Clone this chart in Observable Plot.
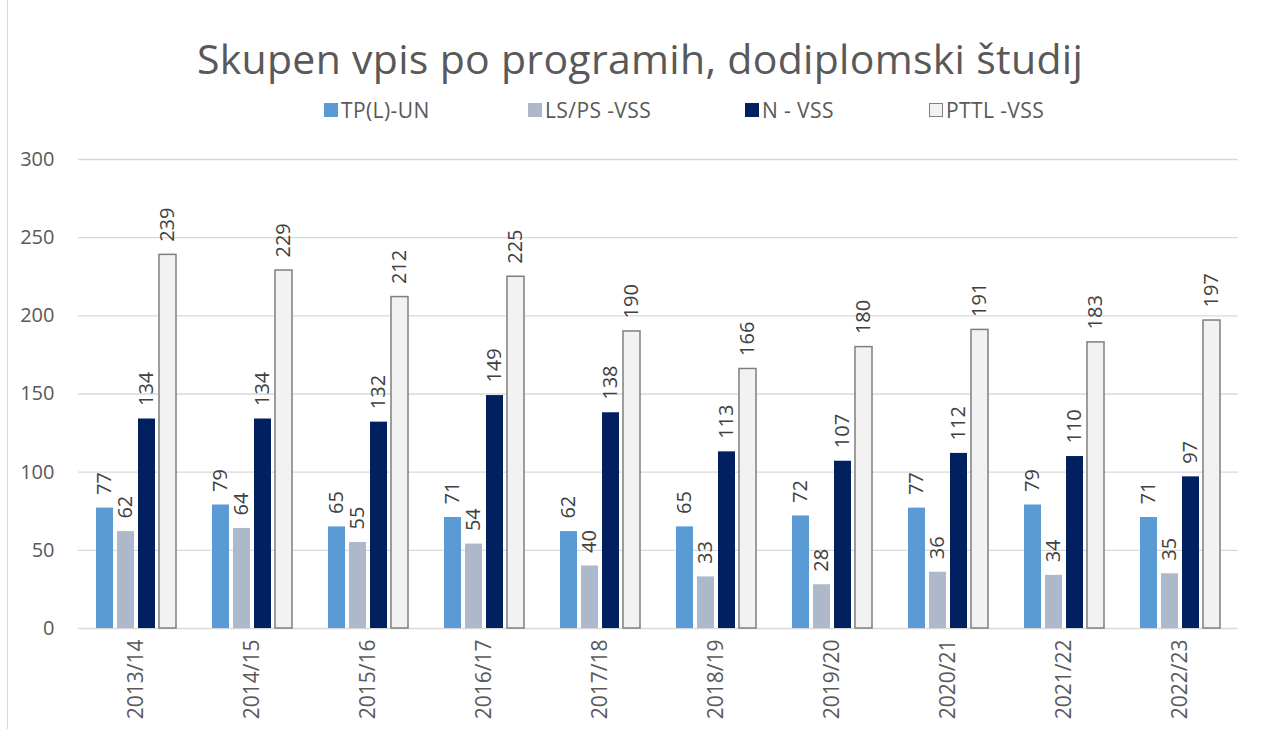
<!DOCTYPE html>
<html>
<head>
<meta charset="utf-8">
<script src="https://cdn.jsdelivr.net/npm/d3@7"></script>
<script src="https://cdn.jsdelivr.net/npm/@observablehq/plot@0.6"></script>
<style>
  html, body { margin: 0; padding: 0; background: #fff; }
  #wrap { position: relative; width: 1264px; height: 729px; overflow: hidden; font-family: "Open Sans", sans-serif; }
  #border { position: absolute; left: 7px; top: 0; width: 0; height: 729px; border-left: 1px solid #D9D9D9; }
  #title { position: absolute; left: 8px; top: 34px; width: 1264px; text-align: center; font-size: 41px; letter-spacing: 0.3px; line-height: 48px; color: #595959; white-space: nowrap; }
  #legend { position: absolute; left: 0; top: 98px; width: 1264px; height: 24px; font-size: 21px; letter-spacing: 0.4px; line-height: 24px; color: #595959; }
  .item { position: absolute; top: 0; white-space: nowrap; padding-left: 17px; }
  .sw { position: absolute; left: 0; top: 5px; width: 14px; height: 14px; box-sizing: border-box; }
  #chart { position: absolute; left: 0; top: 128px; }
</style>
</head>
<body>
<div id="wrap">
  <div id="border"></div>
  <div id="title">Skupen vpis po programih, dodiplomski študij</div>
  <div id="legend"></div>
  <div id="chart"></div>
</div>
<script>
const years = ["2013/14","2014/15","2015/16","2016/17","2017/18","2018/19","2019/20","2020/21","2021/22","2022/23"];
const series = ["TP(L)-UN","LS/PS -VSS","N - VSS","PTTL -VSS"];
const tpUN   = [77, 79, 65, 71, 62, 65, 72, 77, 79, 71];
const lsVSS  = [62, 64, 55, 54, 40, 33, 28, 36, 34, 35];
const nVSS   = [134, 134, 132, 149, 138, 113, 107, 112, 110, 97];
const pttlVSS = [239, 229, 212, 225, 190, 166, 180, 191, 183, 197];
const yTicks = [0, 50, 100, 150, 200, 250, 300];

const colors = ["#5B9BD5", "#ADB9CA", "#002060", "#F2F2F2"];
const legendLeft = [324, 528, 745, 929];

const valuesBySeries = [tpUN, lsVSS, nVSS, pttlVSS];
const data = years.flatMap((year, i) =>
  series.map((s, j) => ({year, series: s, value: valuesBySeries[j][i]}))
);

// legend
const legend = document.getElementById("legend");
series.forEach((s, j) => {
  const it = document.createElement("div");
  it.className = "item";
  it.style.left = legendLeft[j] + "px";
  const sw = document.createElement("span");
  sw.className = "sw";
  sw.style.background = colors[j];
  if (j === 3) sw.style.border = "1.5px solid #7F7F7F";
  it.appendChild(sw);
  it.appendChild(document.createTextNode(s));
  legend.appendChild(it);
});

const chart = Plot.plot({
  width: 1264,
  height: 601,
  marginLeft: 76,
  marginRight: 24,
  marginTop: 31,
  marginBottom: 101,
  style: {fontFamily: "Open Sans, sans-serif", fontSize: "20px", color: "#595959", background: "transparent"},
  facet: {data, x: "year"},
  fx: {domain: years, paddingInner: 0, paddingOuter: 0, label: null, tickSize: 0, tickPadding: 11, tickRotate: -90},
  x: {domain: series, paddingInner: 0.2, paddingOuter: 0.854, axis: null},
  y: {domain: [0, 300], ticks: yTicks, label: null, tickSize: 0, tickPadding: 24},
  color: {domain: series, range: colors},
  marks: [
    Plot.ruleY(yTicks, {stroke: "#D9D9D9", strokeWidth: 1.3}),
    Plot.barY(data, {x: "series", y: "value", fill: "series"}),
    Plot.barY(data, {filter: d => d.series === series[3], x: "series", y: "value", fill: "none", stroke: "#7F7F7F", strokeWidth: 1.5}),
    Plot.text(data, {x: "series", y: "value", text: d => String(d.value), rotate: -90, textAnchor: "start", lineAnchor: "middle", dy: -13, fill: "#404040", fontSize: 20})
  ]
});
chart.querySelectorAll("g[aria-label='fx-axis tick label'] text, g[aria-label='fx-axis'] text").forEach(t => t.setAttribute("font-size", "21"));
document.getElementById("chart").appendChild(chart);
</script>
</body>
</html>
